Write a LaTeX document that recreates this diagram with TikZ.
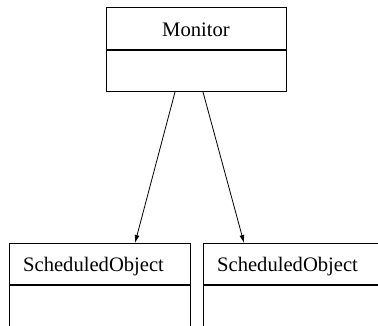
\documentclass[tikz,border=0pt]{standalone}
\usepackage{fontspec}
\setmainfont{Liberation Serif}
\usetikzlibrary{calc,arrows.meta}

\tikzset{
  compartment/.style={draw=black, line width=1pt, rectangle, inner sep=0pt, anchor=north west},
  classname/.style={font=\fontsize{20.6}{24}\selectfont, inner sep=0pt},
  assoc/.style={draw=black, line width=0.8pt, -{Latex[length=8pt,width=5pt]}}
}

\begin{document}
\begin{tikzpicture}[x=1pt, y=1pt]
  \useasboundingbox (0,0) rectangle (378,325);
  \clip (0,0) rectangle (378,325);

  % Monitor class: name compartment and an empty body compartment
  \node[compartment, minimum width=180pt, minimum height=42pt] (monhead) at (106,318) {};
  \node[compartment, minimum width=180pt, minimum height=41pt] (monbody) at (monhead.south west) {};
  \node[classname, anchor=base] (montext) at (196,289) {Monitor};

  % Left ScheduledObject class (cut off at the bottom)
  \node[compartment, minimum width=181.5pt, minimum height=41pt] (lhead) at (8.5,82) {};
  \node[compartment, minimum width=181.5pt, minimum height=60pt] (lbody) at (lhead.south west) {};
  \node[classname, anchor=base west] (ltext) at (23,53.3) {ScheduledObject};

  % Right ScheduledObject class (cut off at the right and bottom)
  \node[compartment, minimum width=200pt, minimum height=41pt] (rhead) at (203,82) {};
  \node[compartment, minimum width=200pt, minimum height=60pt] (rbody) at (rhead.south west) {};
  \node[classname, anchor=base west] (rtext) at (217,53.3) {ScheduledObject};

  % Associations from Monitor to both objects
  \draw[assoc] ($(monbody.south west)+(69,0)$) -- ($(lhead.north west)+(126.5,0)$);
  \draw[assoc] ($(monbody.south west)+(97,0)$) -- ($(rhead.north west)+(41,0)$);
\end{tikzpicture}
\end{document}
